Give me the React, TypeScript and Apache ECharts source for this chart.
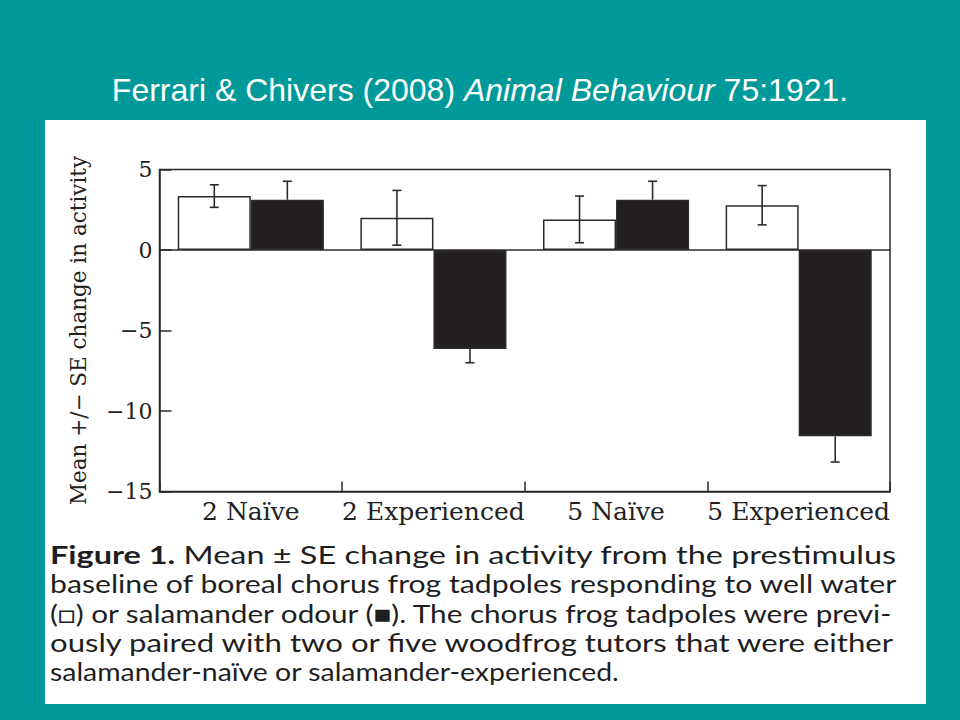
import React, { useEffect, useRef } from "react";
import * as echarts from "echarts";

const categories = ["2 Naïve", "2 Experienced", "5 Naïve", "5 Experienced"];
const waterMean = [3.35, 2.0, 1.9, 2.78];
const waterSE = [0.7, 1.7, 1.45, 1.22];
const odourMean = [3.12, -6.15, 3.12, -11.57];
const odourSE = [1.15, 0.85, 1.15, 1.6];
const yTicks = { min: -15, max: 5, interval: 5 };
const yName = "Mean +/\u2212 SE change in activity";
const titleParts = ["Ferrari & Chivers (2008) ", "Animal Behaviour", " 75:1921."];
const captionBold = "Figure 1.";
const captionLines = [
  " Mean \u00b1 SE change in activity from the prestimulus",
  "baseline of boreal chorus frog tadpoles responding to well water",
  "(\u25a1) or salamander odour (\u25a0). The chorus frog tadpoles were previ-",
  "ously paired with two or five woodfrog tutors that were either",
  "salamander-na\u00efve or salamander-experienced.",
];
const captionWidths = [847, 848, 845, 847, 570];

const TEAL = "#009999";
const INK = "#2b2b2b";
const SERIF = "'DejaVu Serif', serif";
const CAP_FONT = "Lato";
const CAP_SIZE = 25;

function measure(text: string, weight: string) {
  const c = document.createElement("canvas").getContext("2d")!;
  c.font = `${weight} ${CAP_SIZE}px ${CAP_FONT}, sans-serif`;
  return c.measureText(text).width;
}

function errorSeries(name: string, means: number[], ses: number[], side: number, outwardOnly: boolean) {
  return {
    type: "custom",
    name,
    z: 5,
    silent: true,
    data: means.map((m, i) => [i, m, ses[i]]),
    renderItem: (params: any, api: any) => {
      const i = api.value(0);
      const m = api.value(1);
      const se = api.value(2);
      const band = api.size([1, 0])[0];
      const off = side * band * 0.2;
      let hi = m + se;
      let lo = m - se;
      if (outwardOnly) {
        if (m >= 0) lo = m;
        else hi = m;
      }
      const top = api.coord([i, hi]);
      const bot = api.coord([i, lo]);
      const x = top[0] + off;
      const cap = 4.5;
      const ls = { stroke: INK, lineWidth: 1.6 };
      const children: any[] = [
        { type: "line", shape: { x1: x, y1: top[1], x2: x, y2: bot[1] }, style: ls },
      ];
      if (!outwardOnly || m >= 0)
        children.push({ type: "line", shape: { x1: x - cap, y1: top[1], x2: x + cap, y2: top[1] }, style: ls });
      if (!outwardOnly || m < 0)
        children.push({ type: "line", shape: { x1: x - cap, y1: bot[1], x2: x + cap, y2: bot[1] }, style: ls });
      return { type: "group", children };
    },
  };
}

export default function App() {
  const ref = useRef<HTMLDivElement>(null);
  useEffect(() => {
    document.body.style.margin = "0";
    const chart = echarts.init(ref.current!, null, { renderer: "svg" });

    const widths = captionLines.map((t, k) =>
      k === 0 ? measure(captionBold, "bold") + measure(t, "normal") : measure(t, "normal")
    );
    const scales = widths.map((w, k) => (w > 0 ? captionWidths[k] / w : 1));

    const option: any = {
      animation: false,
      backgroundColor: TEAL,
      grid: {
        left: 159.5,
        top: 169.5,
        right: 70,
        bottom: 228.5,
        show: true,
        borderColor: INK,
        borderWidth: 1.5,
        backgroundColor: "transparent",
      },
      graphic: [
        {
          type: "rect",
          z: -10,
          shape: { x: 45, y: 120, width: 881, height: 584 },
          style: { fill: "#ffffff" },
        },
        {
          type: "text",
          x: 480,
          y: 90,
          style: {
            text: `${titleParts[0]}{i|${titleParts[1]}}${titleParts[2]}`,
            fill: "#ffffff",
            font: "32px 'Liberation Sans', Arial, sans-serif",
            align: "center",
            verticalAlign: "middle",
            rich: {
              i: {
                fontStyle: "italic",
                fontSize: 32,
                fontFamily: "'Liberation Sans', Arial, sans-serif",
                fill: "#ffffff",
              },
            },
          },
        },
        ...captionLines.map((t, k) => ({
          type: "text",
          x: 50,
          y: 554 + k * 29.5,
          scaleX: scales[k],
          style: {
            text: k === 0 ? `{b|${captionBold}}${t}` : t,
            fill: "#1e1e1e",
            font: `${CAP_SIZE}px ${CAP_FONT}, sans-serif`,
            align: "left",
            verticalAlign: "middle",
            rich: {
              b: { fontWeight: "bold", fontSize: CAP_SIZE, fontFamily: `${CAP_FONT}, sans-serif`, fill: "#1e1e1e" },
            },
          },
        })),
      ],
      xAxis: {
        type: "category",
        data: categories,
        axisLine: { show: true, onZero: false, lineStyle: { color: INK, width: 1.5 } },
        axisTick: { show: true, inside: true, length: 10, lineStyle: { color: INK, width: 1.5 } },
        axisLabel: { color: "#222", fontFamily: SERIF, fontSize: 25, margin: 7, interval: 0 },
        splitLine: { show: false },
      },
      yAxis: {
        type: "value",
        min: yTicks.min,
        max: yTicks.max,
        interval: yTicks.interval,
        name: yName,
        nameLocation: "middle",
        nameGap: 70,
        nameTextStyle: { color: "#222", fontFamily: SERIF, fontSize: 21.5 },
        axisLine: { show: true, lineStyle: { color: INK, width: 1.5 } },
        axisTick: { show: true, inside: true, length: 12, lineStyle: { color: INK, width: 1.5 } },
        axisLabel: {
          color: "#222",
          fontFamily: SERIF,
          fontSize: 22,
          margin: 7,
          formatter: (v: number) => String(v).replace("-", "\u2212"),
        },
        splitLine: { show: false },
      },
      series: [
        {
          type: "bar",
          name: "Well water",
          data: waterMean,
          barWidth: "40%",
          barGap: "0%",
          itemStyle: { color: "#ffffff", borderColor: INK, borderWidth: 1.5 },
          markLine: {
            silent: true,
            symbol: "none",
            label: { show: false },
            lineStyle: { color: INK, width: 1.5, type: "solid" },
            data: [{ yAxis: 0 }],
          },
        },
        {
          type: "bar",
          name: "Salamander odour",
          data: odourMean,
          barWidth: "40%",
          barGap: "0%",
          itemStyle: { color: "#231f20", borderColor: INK, borderWidth: 1.5 },
        },
        errorSeries("Well water SE", waterMean, waterSE, -1, false),
        errorSeries("Salamander odour SE", odourMean, odourSE, 1, true),
      ],
    };
    chart.setOption(option);
    return () => chart.dispose();
  }, []);
  return <div ref={ref} style={{ position: "fixed", left: 0, top: 0, width: 960, height: 720 }} />;
}
